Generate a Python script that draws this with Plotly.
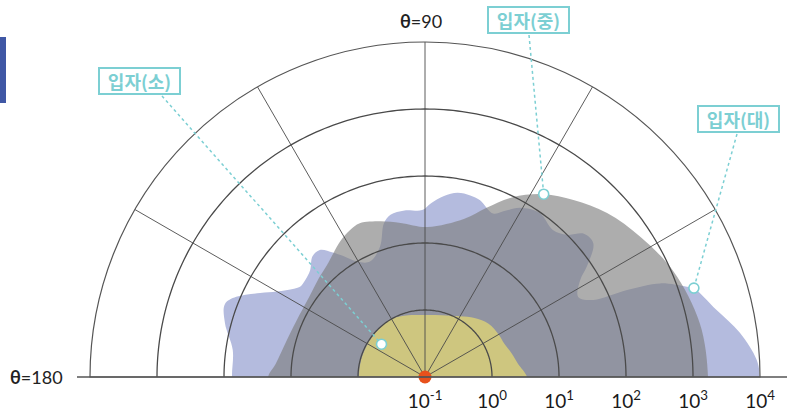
import numpy as np
import plotly.graph_objects as go

W, H = 787, 417

# ---------------- data ----------------
# 입자(대) – large particles (blue)
theta_large = [-8, 0, 3, 8, 13, 18.3, 19, 21.7, 23.3, 24.6, 27.6, 32, 34.3, 38.5, 42, 45,
               49, 55, 60.6, 64, 67.4, 72.7, 76, 80, 84, 88, 91, 97, 102, 105, 109, 115.5,
               120.5, 124, 126.5, 129.6, 133, 137, 141, 144, 146, 150, 153, 157, 160, 165,
               172, 180, 188]
r_large = [9900, 9900, 9020, 5570, 2900, 1675, 1360, 600, 192, 58, 38, 54, 84, 162, 156, 100,
           81, 97, 79, 58, 44, 58, 62, 62, 52, 39.5, 31, 32, 30, 23.6, 11.5, 8.1,
           10, 15.1, 20.6, 29, 29, 22, 19.9, 19.9, 22.8, 35.6, 57.7, 115, 151, 123,
           79, 76, 76]

# 입자(중) – medium particles (gray)
theta_medium = [-8, 0, 11, 23, 33, 42, 50, 57, 64, 70, 76, 89, 99, 106, 113, 117, 122,
                126.5, 130, 137, 145, 154, 165, 175, 180, 188]
r_medium = [1675, 1675, 1510, 1072, 685, 454, 280, 179, 96.6, 48.6, 27.1, 17.3, 21.3, 26.2,
            31.1, 29, 24.4, 19.9, 17.3, 14.6, 12.7, 12.3, 13.6, 17.3, 22, 22]

# 입자(소) – small particles (yellow)
theta_small = [-8, 0, 8, 15, 23, 30, 40, 50, 60, 75, 90, 105, 120, 135, 150, 165, 180, 188]
r_small = [3.33, 3.33, 2.53, 2.2, 1.92, 1.86, 1.73, 1.41, 1.11, 0.9, 0.84, 0.9, 1.0, 0.98,
           0.97, 0.97, 0.97, 0.97]

# callouts
callout_names = ["입자(소)", "입자(중)", "입자(대)"]
callout_r = [0.65, 179, 1686]
callout_theta = [143, 57, 18.3]

radial_tickvals = [0.1, 1, 10, 100, 1000, 10000]
radial_ticktext = ["10<sup>-1</sup>", "10<sup>0</sup>", "10<sup>1</sup>",
                   "10<sup>2</sup>", "10<sup>3</sup>", "10<sup>4</sup>"]
grid_circles = [1, 10, 100, 1000]
spoke_angles = [30, 60, 90, 120, 150]

# ---------------- style ----------------
BLUE = "#b4bbde"
GRAY = "rgba(125,125,125,0.63)"
YELLOW = "#cec67f"
GRID = "#4a4a4a"
TEAL = "#7ccfd3"
FONT = "Lato, 'Noto Sans', sans-serif"
KFONT = "'Noto Sans CJK KR', sans-serif"

# polar placement (pixels)
PX0, PX1, PYT, PYB = 90, 760, 42, 377
CX, CY, R = (PX0 + PX1) / 2, PYB, (PX1 - PX0) / 2

fig = go.Figure()

for th, rr, col in [(theta_large, r_large, BLUE), (theta_medium, r_medium, GRAY),
                    (theta_small, r_small, YELLOW)]:
    fig.add_trace(go.Scatterpolar(
        r=rr, theta=th, mode="lines", fill="toself", fillcolor=col,
        line=dict(color="rgba(0,0,0,0)", width=0, shape="spline", smoothing=1),
        hoverinfo="skip"))

# grid on top of fills
arc_theta = list(range(0, 181, 1))
gr, gt = [], []
for c in grid_circles:
    gr += [c] * len(arc_theta) + [None]
    gt += arc_theta + [None]
fig.add_trace(go.Scatterpolar(r=gr, theta=gt, mode="lines",
                              line=dict(color=GRID, width=1.3), hoverinfo="skip"))
sr, st = [], []
for a in spoke_angles:
    sr += [radial_tickvals[0], radial_tickvals[-1], None]
    st += [a, a, None]
fig.add_trace(go.Scatterpolar(r=sr, theta=st, mode="lines",
                              line=dict(color=GRID, width=0.9), hoverinfo="skip"))

# callout markers
fig.add_trace(go.Scatterpolar(r=callout_r, theta=callout_theta, mode="markers",
                              marker=dict(size=10, color="white", line=dict(color=TEAL, width=1.6)),
                              cliponaxis=False, hoverinfo="skip"))
# centre dot
fig.add_trace(go.Scatterpolar(r=[radial_tickvals[0]], theta=[0], mode="markers",
                              marker=dict(size=13, color="#e8511c"), cliponaxis=False,
                              hoverinfo="skip"))


def to_px(r, th):
    d = (np.log10(r) + 1) / 5 * R
    return CX + d * np.cos(np.radians(th)), CY - d * np.sin(np.radians(th))


shapes = [
    dict(type="line", xref="paper", yref="paper", x0=77 / W, x1=1, y0=(H - CY) / H, y1=(H - CY) / H,
         line=dict(color="#555555", width=1.5)),
    dict(type="rect", xref="paper", yref="paper", x0=0, x1=6 / W, y0=(H - 103) / H, y1=(H - 37) / H,
         fillcolor="#3f57a5", line=dict(width=0)),
]
label_boxes = [(139.5, 81), (528, 20), (738.5, 119)]
line_starts = [(162, 96), (529, 35), (737, 134)]
annotations = []
for name, (bx, by), (sx, sy), rr, th in zip(callout_names, label_boxes, line_starts,
                                            callout_r, callout_theta):
    annotations.append(dict(
        text="<b>" + name + "</b>", x=bx / W, y=1 - by / H, xref="paper", yref="paper",
        showarrow=False, font=dict(family=KFONT, size=18, color=TEAL),
        bgcolor="white", bordercolor=TEAL, borderwidth=2, borderpad=1,
        width=77, height=22, xanchor="center", yanchor="middle"))
    mx, my = to_px(rr, th)
    vx, vy = mx - sx, my - sy
    L = np.hypot(vx, vy)
    ex, ey = mx - vx / L * 5.5, my - vy / L * 5.5
    shapes.append(dict(type="line", xref="paper", yref="paper",
                       x0=sx / W, y0=1 - sy / H, x1=ex / W, y1=1 - ey / H,
                       line=dict(color=TEAL, width=1.5, dash="dot")))

annotations.append(dict(text="<b>θ</b>=90", x=421 / W, y=1 - 21 / H, xref="paper", yref="paper",
                        xanchor="center", yanchor="middle",
                        showarrow=False, font=dict(family=FONT, size=18, color="#222")))
annotations.append(dict(text="<b>θ</b>=180", x=36 / W, y=1 - 377 / H, xref="paper", yref="paper",
                        xanchor="center", yanchor="middle",
                        showarrow=False, font=dict(family=FONT, size=18, color="#222")))

fig.update_layout(
    width=W, height=H, margin=dict(l=0, r=0, t=0, b=0),
    paper_bgcolor="white", plot_bgcolor="white", showlegend=False,
    polar=dict(
        domain=dict(x=[PX0 / W, PX1 / W], y=[(H - PYB) / H, (H - PYT) / H]),
        sector=[0, 180], bgcolor="white",
        radialaxis=dict(type="log", range=[-1, 4], tickvals=radial_tickvals,
                        ticktext=radial_ticktext, angle=0, side="clockwise",
                        showgrid=False, showline=False, ticks="outside", ticklen=8,
                        tickcolor="rgba(0,0,0,0)",
                        tickfont=dict(family=FONT, size=19, color="#1a1a1a")),
        angularaxis=dict(showgrid=False, showticklabels=False, ticks="",
                         showline=True, linecolor="#555555", linewidth=1.2),
    ),
    shapes=shapes, annotations=annotations,
)

fig.write_html("out.html", config={"displayModeBar": False},
               post_script="document.body.style.margin='0';")
